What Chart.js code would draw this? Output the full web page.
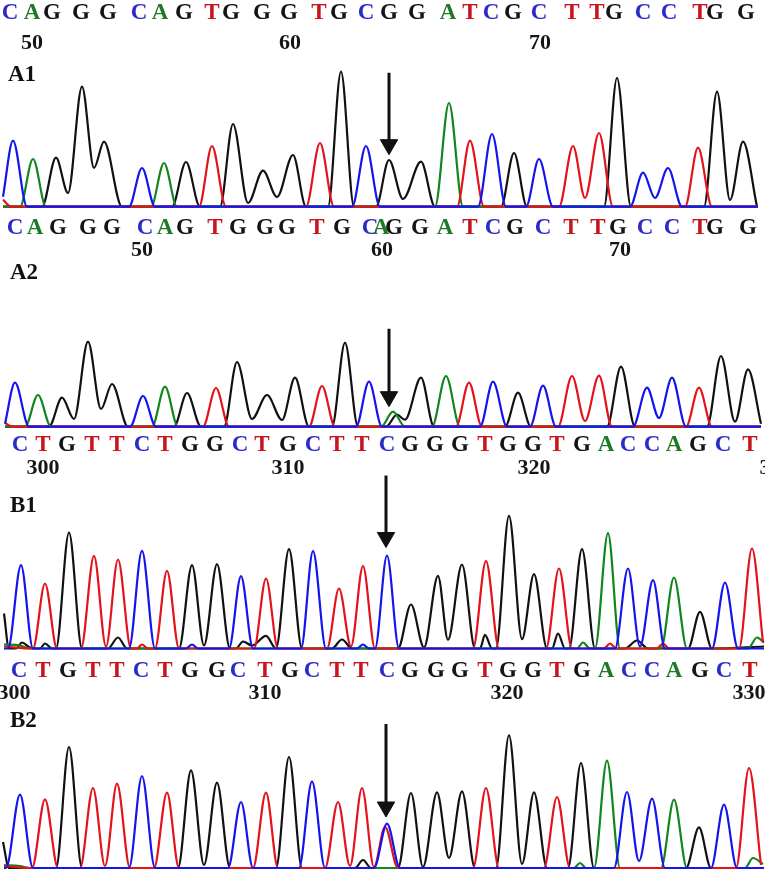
<!DOCTYPE html>
<html>
<head>
<meta charset="utf-8">
<title>Chromatograms A1 A2 B1 B2</title>
<script src="https://cdn.jsdelivr.net/npm/chart.js@4.4.1/dist/chart.umd.min.js"></script>
<style>
  html, body { margin: 0; padding: 0; background: #fff; }
  #page { position: relative; width: 765px; height: 876px; overflow: hidden; }
  .panel { position: absolute; left: 0; width: 765px; }
  .tag { position: absolute; z-index: 2; font: bold 23px/22px "Liberation Serif", "Times New Roman", serif; color: #111; }
</style>
</head>
<body>
<div id="page">
  <div class="panel" style="top:0;height:210px"><canvas id="cA1"></canvas><div class="tag" style="left:8px;top:63px">A1</div></div>
  <div class="panel" style="top:212px;height:218px"><canvas id="cA2"></canvas><div class="tag" style="left:10px;top:49px">A2</div></div>
  <div class="panel" style="top:432px;height:220px"><canvas id="cB1"></canvas><div class="tag" style="left:10px;top:62px">B1</div></div>
  <div class="panel" style="top:657px;height:215px"><canvas id="cB2"></canvas><div class="tag" style="left:10px;top:52px">B2</div></div>
</div>
<script>
// ============================================================
//  Sanger chromatograms – A1 / A2 / B1 / B2
//  x = trace position (scan), y = signal above baseline
// ============================================================

// ---------- base calls + ruler ----------
const seqA1 = 'CAGGGCAGTGGGTGCGGATCGCTTGCCTGG';
const posA1 = [10, 32, 52, 81, 108, 139, 160, 184, 212, 231, 262, 289, 319, 339, 366, 389, 417, 448, 470, 491, 513, 539, 572, 597, 614, 643, 669, 700, 715, 746];
const numPosA1 = [32, 290, 540];
const numA1 = ['50', '60', '70'];

const seqA2 = 'CAGGGCAGTGGGTGCAGGATCGCTTGCCTGG';
const posA2 = [15, 35, 58, 88, 112, 145, 165, 185, 215, 238, 265, 287, 317, 342, 370, 381, 394, 420, 445, 470, 493, 515, 543, 571, 598, 618, 645, 672, 700, 715, 748];
const numPosA2 = [142, 382, 620];
const numA2 = ['50', '60', '70'];

const seqB1 = 'CTGTTCTGGCTGCTTCGGGTGGTGACCAGCT';
const posB1 = [20, 43, 67, 92, 117, 142, 165, 190, 215, 240, 262, 288, 313, 337, 362, 387, 410, 435, 460, 485, 508, 533, 557, 582, 606, 628, 652, 674, 698, 723, 750];
const numPosB1 = [43, 288, 534, 776];
const numB1 = ['300', '310', '320', '330'];

const seqB2 = 'CTGTTCTGGCTGCTTCGGGTGGTGACCAGCT';
const posB2 = [19, 43, 68, 93, 117, 141, 165, 190, 217, 238, 265, 290, 312, 337, 361, 387, 410, 436, 460, 485, 508, 533, 557, 582, 606, 629, 652, 674, 700, 724, 750];
const numPosB2 = [14, 265, 507, 749];
const numB2 = ['300', '310', '320', '330'];

// ---------- traces: [scan, signal] ----------
const a1C = [[3, 10], [13, 66], [27, 0], [129, 0], [142, 38.7], [155, 0], [352, 0], [366, 60.7], [380, 0], [478, 0], [492, 72.7], [506, 0], [526, 0], [539, 47.7], [553, 0], [630, 0], [643, 34], [655, 8.7], [668, 38.7], [682, 0], [758, 0]];
const a1A = [[3, 0], [20, 0], [33, 47.7], [46, 0], [151, 0], [164, 43.7], [177, 0], [435, 0], [449, 103.7], [463, 0], [758, 0]];
const a1G = [[3, 0], [42, 0], [56, 49], [68, 13.7], [82, 120], [94, 38.7], [104, 65], [122, 0], [172, 0], [186, 44.7], [200, 0], [220, 0], [233, 82.7], [248, 3.7], [263, 36], [277, 9.7], [293, 51.7], [306, 0], [328, 0], [341, 135], [354, 0], [376, 0], [389, 46.7], [403, 7.7], [421, 45], [435, 0], [501, 0], [514, 53.7], [527, 0], [604, 0], [617, 128.7], [631, 0], [704, 0], [717, 115], [730, 6.7], [743, 65], [757, 0]];
const a1T = [[3, 7], [11, 0], [199, 0], [212, 60.7], [226, 0], [306, 0], [320, 63.7], [334, 0], [457, 0], [470, 66], [484, 0], [559, 0], [573, 60.7], [585, 8.7], [599, 73.7], [613, 0], [685, 0], [698, 59], [712, 0], [758, 0]];

const a2C = [[5, 3], [15, 44], [29, 0], [130, 0], [143, 30.7], [156, 0], [356, 0], [369, 45], [382, 0], [480, 0], [493, 45], [507, 0], [530, 0], [543, 41], [556, 0], [633, 0], [647, 39], [659, 8.7], [672, 49], [686, 0], [761, 0]];
const a2A = [[5, 0], [25, 0], [38, 31.7], [51, 0], [152, 0], [165, 40], [178, 0], [381, 0], [393, 15], [405, 0], [432, 0], [446, 50.7], [460, 0], [761, 0]];
const a2G = [[5, 0], [49, 0], [62, 29], [74, 7.7], [88, 85], [101, 17.7], [112, 42.7], [128, 0], [174, 0], [187, 33.7], [201, 0], [224, 0], [237, 64.7], [252, 7.7], [267, 31.7], [282, 6.7], [295, 49], [309, 0], [332, 0], [345, 84], [358, 0], [386, 0], [397, 12], [405, 7], [421, 49], [434, 0], [505, 0], [518, 34], [531, 0], [607, 0], [621, 60], [635, 0], [707, 0], [721, 70.7], [735, 5], [748, 57.3], [761, 3]];
const a2T = [[5, 4], [12, 0], [203, 0], [216, 38.7], [229, 0], [309, 0], [322, 40.7], [335, 0], [456, 0], [469, 44], [482, 0], [558, 0], [572, 50.7], [585, 5.7], [599, 51], [612, 0], [686, 0], [699, 39], [712, 0], [761, 0]];

const b1C = [[4, 0], [8, 0], [21, 83.3], [33, 0], [129, 0], [142, 97.7], [155, 0], [186, 0], [192, 4], [198, 0], [229, 0], [241, 72.3], [253, 0], [301, 0], [313, 97.3], [326, 0], [357, 0], [363, 4], [369, 0], [375, 0], [387, 93], [399, 0], [615, 0], [628, 80], [640, 2], [653, 68.3], [665, 0], [712, 0], [725, 66], [738, 0], [764, 0]];
const b1A = [[4, 4], [20, 3], [30, 0], [577, 0], [583, 6], [590, 0], [595, 0], [608, 115.3], [620, 0], [661, 0], [674, 71], [687, 0], [748, 0], [757, 11], [764, 6]];
const b1G = [[4, 35], [9, 0], [16, 0], [22, 6], [30, 1], [40, 0], [45, 5], [52, 0], [56, 0], [69, 116], [82, 0], [108, 0], [118, 11], [127, 0], [179, 0], [192, 83.3], [204, 3], [217, 84.3], [230, 0], [236, 0], [243, 7], [252, 3], [266, 12.7], [276, 0], [289, 99.3], [302, 0], [332, 0], [342, 9], [352, 0], [398, 0], [411, 44], [424, 1], [438, 72.7], [448, 8.7], [462, 84], [475, 0], [480, 0], [485, 13.7], [492, 0], [496, 0], [509, 132.7], [522, 9.3], [534, 74.3], [547, 0], [552, 0], [558, 15], [565, 0], [569, 0], [582, 99.3], [595, 0], [625, 0], [637, 8], [648, 0], [688, 0], [700, 36.7], [712, 0], [764, 2]];
const b1T = [[4, 2], [33, 0], [45, 65], [57, 0], [81, 0], [94, 92.7], [106, 2], [118, 89], [131, 0], [137, 0], [142, 4], [148, 0], [155, 0], [167, 77.7], [179, 0], [254, 0], [266, 70], [278, 0], [327, 0], [339, 60], [351, 2], [363, 82.3], [375, 0], [473, 0], [486, 87.7], [499, 0], [546, 0], [559, 80], [572, 0], [604, 0], [610, 5], [616, 0], [657, 0], [663, 5], [669, 0], [739, 0], [752, 100], [763, 6]];

const b2C = [[4, 0], [6, 0], [20, 73.3], [33, 0], [129, 0], [142, 92], [155, 0], [228, 0], [241, 66], [253, 0], [299, 0], [312, 86.7], [325, 0], [374, 0], [387, 44.3], [400, 0], [614, 0], [627, 76], [639, 7], [652, 69.3], [665, 0], [711, 0], [724, 63.3], [737, 0], [764, 0]];
const b2A = [[4, 3], [20, 2], [30, 0], [574, 0], [580, 5], [586, 0], [594, 0], [607, 107.3], [620, 0], [661, 0], [674, 68.3], [687, 0], [745, 0], [753, 10], [763, 4]];
const b2G = [[3, 26], [9, 0], [56, 0], [69, 121], [82, 0], [178, 0], [191, 97.7], [204, 3], [217, 85.3], [230, 0], [276, 0], [289, 111], [302, 0], [355, 0], [363, 8], [371, 0], [398, 0], [411, 75], [423, 1], [437, 75.6], [449, 10], [462, 76.6], [475, 0], [496, 0], [509, 132.6], [522, 4], [534, 75.6], [547, 0], [568, 0], [581, 105], [594, 0], [686, 0], [699, 40.6], [711, 0], [764, 0]];
const b2T = [[4, 2], [32, 0], [45, 68.7], [58, 0], [80, 0], [93, 80], [105, 2], [117, 84.3], [130, 0], [154, 0], [167, 75.3], [179, 0], [253, 0], [266, 75.3], [278, 0], [325, 0], [338, 66], [350, 2], [362, 80], [374, 1], [385, 41], [398, 0], [473, 0], [486, 80], [499, 0], [544, 0], [557, 71], [570, 0], [736, 0], [749, 100], [761, 3]];

// arrows: [scan, shaft top, head centre]
const arrowA1 = [389, 134, 62];
const arrowA2 = [389, 98, 30];
const arrowB1 = [386, 173, 111];
const arrowB2 = [386, 144, 61];

// ---------- styles ----------
const SERIF = '"Liberation Serif", "Times New Roman", serif';
const LETTER_COLOR = { A: '#1e7a28', C: '#2b2bc8', G: '#151515', T: '#c8151c' };
const TRACE_COLOR  = { A: '#10871c', C: '#1414ee', G: '#111111', T: '#e3121b' };

// ==================== PANEL ====================

function drawPanel(canvasId, seq, pos, numPos, nums, traces, arrow, box) {
  // box: letters/ruler axis heights, panel height, baseline distance from bottom
  const areaH = box.height - box.hLetters - box.hRuler;
  const yMin  = -box.below;
  const yMax  = areaH - box.below;

  const datasets = [{
    data: [[arrow[0], arrow[1]], [arrow[0], arrow[2]]],
    borderColor: '#111',
    borderWidth: 3,
    pointRadius: [0, 10],
    pointStyle: 'triangle',
    rotation: 180,
    pointBackgroundColor: '#111',
    pointBorderColor: '#111',
    pointBorderWidth: 1,
    clip: false,
    order: 0
  }];

  // blue drawn on top so the baseline reads blue
  ['C', 'T', 'A', 'G'].forEach((b, i) => {
    datasets.push({
      data: traces[b],
      borderColor: TRACE_COLOR[b],
      borderWidth: 2.2,
      pointRadius: 0,
      cubicInterpolationMode: 'monotone',
      fill: false,
      order: i + 1
    });
  });

  const noPad = s => { s.paddingLeft = 0; s.paddingRight = 0; };

  new Chart(document.getElementById(canvasId), {
    type: 'line',
    data: { datasets },
    options: {
      responsive: true,
      maintainAspectRatio: false,
      animation: false,
      events: [],
      layout: { padding: 0, autoPadding: false },
      plugins: { legend: { display: false }, tooltip: { enabled: false } },
      scales: {
        x: {
          type: 'linear', position: 'top', weight: 2, min: 0, max: 765,
          grid: { display: false, drawTicks: false }, border: { display: false },
          afterBuildTicks: s => { s.ticks = pos.map(v => ({ value: v })); },
          afterFit: s => { s.height = box.hLetters; noPad(s); },
          ticks: {
            autoSkip: false, maxRotation: 0, minRotation: 0, padding: 0,
            font: { family: SERIF, size: 23, weight: 'bold' },
            color: ctx => LETTER_COLOR[seq[ctx.index]] || '#111',
            callback: (v, i) => seq[i]
          }
        },
        ruler: {
          type: 'linear', axis: 'x', position: 'top', weight: 1, min: 0, max: 765,
          grid: { display: false, drawTicks: false }, border: { display: false },
          afterBuildTicks: s => { s.ticks = numPos.map(v => ({ value: v })); },
          afterFit: s => { s.height = box.hRuler; noPad(s); },
          ticks: {
            autoSkip: false, maxRotation: 0, minRotation: 0, padding: 0,
            font: { family: SERIF, size: 22, weight: 'bold' },
            color: '#151515',
            callback: (v, i) => nums[i]
          }
        },
        y: { display: false, min: yMin, max: yMax }
      }
    }
  });
}

drawPanel('cA1', seqA1, posA1, numPosA1, numA1, { C: a1C, A: a1A, G: a1G, T: a1T }, arrowA1,
  { height: 210, hLetters: 27, hRuler: 30, below: 3.3 });
drawPanel('cA2', seqA2, posA2, numPosA2, numA2, { C: a2C, A: a2A, G: a2G, T: a2T }, arrowA2,
  { height: 218, hLetters: 30, hRuler: 22, below: 3.3 });
drawPanel('cB1', seqB1, posB1, numPosB1, numB1, { C: b1C, A: b1A, G: b1G, T: b1T }, arrowB1,
  { height: 220, hLetters: 27, hRuler: 23, below: 3.5 });
drawPanel('cB2', seqB2, posB2, numPosB2, numB2, { C: b2C, A: b2A, G: b2G, T: b2T }, arrowB2,
  { height: 215, hLetters: 28, hRuler: 22, below: 4 });
</script>
</body>
</html>
